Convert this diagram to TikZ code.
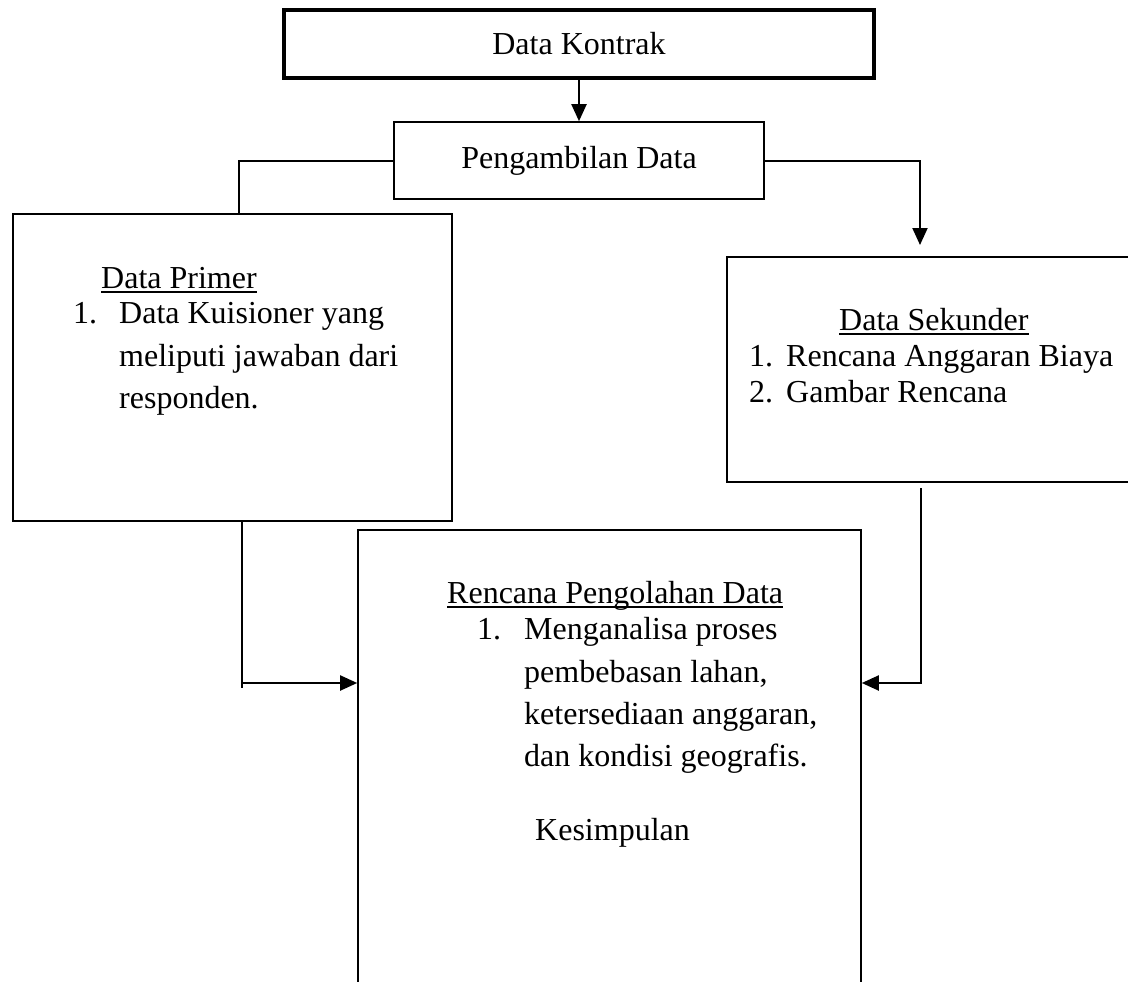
\documentclass[tikz,border=0pt]{standalone}
\usepackage{fontspec}
\setmainfont{Liberation Serif}
\usetikzlibrary{arrows.meta}
\tikzset{
  box/.style={draw, line width=1.6pt, rectangle, inner sep=0pt},
  thickbox/.style={draw, line width=3.5pt, rectangle, inner sep=0pt},
  txt/.style={anchor=base west, inner sep=0pt},
  conn/.style={line width=2pt},
  arr/.style={line width=2pt, -{Triangle[length=17pt,width=15pt]}},
  uline/.style={line width=1.5pt}
}
\begin{document}
\begin{tikzpicture}[x=1pt,y=-1pt,font=\fontsize{32}{40}\selectfont]
\useasboundingbox (0,0) rectangle (1128,982);
\clip (0,0) rectangle (1128,982);
% boxes
\node[thickbox, minimum width=590pt, minimum height=68pt] (kontrak) at (579,44) {Data Kontrak};
\node[box, minimum width=370pt, minimum height=77pt] (peng) at (579,160.5) {Pengambilan Data};
\node[box, minimum width=439pt, minimum height=307pt] (prim) at (232.5,367.5) {};
\node[box, minimum width=413pt, minimum height=225pt] (sek) at (933.5,369.5) {};
\node[box, minimum width=503pt, minimum height=470pt] (ren) at (609.5,765) {};
% Data Primer text
\node[txt] (hprim) at (101,288) {Data Primer};
\draw[uline] ([yshift=-4pt]hprim.base west) -- ([yshift=-4pt]hprim.base east);
\node[txt] (p1n) at (73,323) {1.};
\node[txt] (p1a) at (119,323) {Data Kuisioner yang};
\node[txt] (p1b) at (119,366) {meliputi jawaban dari};
\node[txt] (p1c) at (119,408) {responden.};
% Data Sekunder text
\node[txt] (hsek) at (839,330) {Data Sekunder};
\draw[uline] ([yshift=-4pt]hsek.base west) -- ([yshift=-4pt]hsek.base east);
\node[txt] (s1n) at (749,366) {1.};
\node[txt] (s1) at (786,366) {Rencana Anggaran Biaya};
\node[txt] (s2n) at (749,402) {2.};
\node[txt] (s2) at (786,402) {Gambar Rencana};
% Rencana text
\node[txt] (hren) at (447,603) {Rencana Pengolahan Data};
\draw[uline] ([yshift=-4pt]hren.base west) -- ([yshift=-4pt]hren.base east);
\node[txt] (r1n) at (477,639) {1.};
\node[txt] (r1a) at (524,639) {Menganalisa proses};
\node[txt] (r1b) at (524,682) {pembebasan lahan,};
\node[txt] (r1c) at (524,724) {ketersediaan anggaran,};
\node[txt] (r1d) at (524,766) {dan kondisi geografis.};
\node[txt] (kes) at (535,840) {Kesimpulan};
% connectors
\draw[arr] (kontrak.south) -- (peng.north);
\draw[conn] (peng.west) -| ([xshift=6.5pt]prim.north);
\coordinate (sekin) at (920,245);
\draw[arr] (peng.east) -| (sekin);
\coordinate (pl) at (242,683);
\draw[conn] ([xshift=9.5pt]prim.south) -- (242,688);
\draw[arr] (pl) -- (pl -| ren.west);
\coordinate (sr) at (921,488);
\draw[arr] (sr) |- (ren.east |- pl);
\end{tikzpicture}
\end{document}
